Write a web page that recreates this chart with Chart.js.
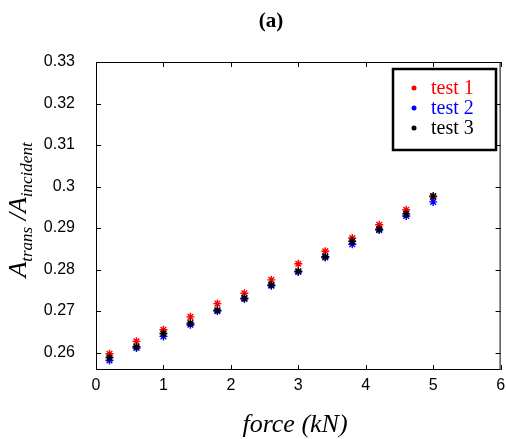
<!DOCTYPE html>
<html>
<head>
<meta charset="utf-8">
<script src="https://cdn.jsdelivr.net/npm/chart.js@4/dist/chart.umd.min.js"></script>
<style>
  body { margin: 0; background: #fff; }
  #plot { display: block; }
</style>
</head>
<body>
<canvas id="plot" width="506" height="439"></canvas>
<script>
// force values (kN), same for all three tests
const force = [0.2, 0.6, 1.0, 1.4, 1.8, 2.2, 2.6, 3.0, 3.4, 3.8, 4.2, 4.6, 5.0];

// A_trans / A_incident
const test1 = [0.2597, 0.2627, 0.2655, 0.2686, 0.2718, 0.2743, 0.2775, 0.2814, 0.2844, 0.2876, 0.2908, 0.2944, 0.2975];
const test2 = [0.2581, 0.2611, 0.2639, 0.2667, 0.2700, 0.2729, 0.2761, 0.2794, 0.2829, 0.2861, 0.2895, 0.2929, 0.2963];
const test3 = [0.2588, 0.2614, 0.2646, 0.2671, 0.2702, 0.2731, 0.2763, 0.2796, 0.2831, 0.2868, 0.2897, 0.2934, 0.2977];

const seriesNames = ["test 1", "test 2", "test 3"];
const seriesColors = ["#ff0000", "#0000ff", "#000000"];

const xTicks = [0, 1, 2, 3, 4, 5, 6];
const yTicks = [0.26, 0.27, 0.28, 0.29, 0.30, 0.31, 0.32, 0.33];

function makeSet(i, values) {
  let pts = [];
  for (let k = 0; k < force.length; k++) {
    pts.push({ x: force[k], y: values[k] });
  }
  return {
    label: seriesNames[i],
    data: pts,
    pointStyle: "star",
    pointRadius: 4,
    borderWidth: 1.4,
    borderColor: seriesColors[i],
    backgroundColor: seriesColors[i],
    showLine: false,
    order: 3 - i // test 3 ends up on top, like the original plot order
  };
}

// draws the box, inward ticks, labels and the legend box
const decorations = {
  id: "decorations",
  afterDraw(chart) {
    const ctx = chart.ctx;
    const a = chart.chartArea;
    const xs = chart.scales.x, ys = chart.scales.y;
    ctx.save();

    // axes box
    ctx.strokeStyle = "#000";
    ctx.lineWidth = 1;
    ctx.strokeRect(a.left + 0.5, a.top + 0.5, a.right - a.left - 1, a.bottom - a.top - 1);

    // inward ticks on all four sides
    ctx.beginPath();
    for (const v of xTicks) {
      let px = Math.round(xs.getPixelForValue(v)) + 0.5;
      ctx.moveTo(px, a.bottom); ctx.lineTo(px, a.bottom - 5);
      ctx.moveTo(px, a.top); ctx.lineTo(px, a.top + 5);
    }
    for (const v of yTicks) {
      let py = Math.round(ys.getPixelForValue(v)) + 0.5;
      ctx.moveTo(a.left, py); ctx.lineTo(a.left + 5, py);
      ctx.moveTo(a.right, py); ctx.lineTo(a.right - 5, py);
    }
    ctx.stroke();

    // title
    ctx.fillStyle = "#000";
    ctx.font = "bold 21px 'Liberation Serif'";
    ctx.textAlign = "center";
    ctx.textBaseline = "alphabetic";
    ctx.fillText("(a)", 271, 27);

    // x axis title
    ctx.font = "italic 26px 'Liberation Serif'";
    ctx.fillText("force (kN)", 295, 432);

    // y axis title with subscripts
    ctx.save();
    ctx.translate(26, 210);
    ctx.rotate(-Math.PI / 2);
    const parts = [
      ["A", 26, 0], ["trans", 17, 6], [" /", 26, 0], ["A", 26, 0], ["incident", 17, 6]
    ];
    let total = 0;
    for (const p of parts) {
      ctx.font = "italic " + p[1] + "px 'Liberation Serif'";
      total += ctx.measureText(p[0]).width;
    }
    let cx = -total / 2;
    ctx.textAlign = "left";
    for (const p of parts) {
      ctx.font = "italic " + p[1] + "px 'Liberation Serif'";
      ctx.fillText(p[0], cx, p[2]);
      cx += ctx.measureText(p[0]).width;
    }
    ctx.restore();

    // legend box
    ctx.lineWidth = 2.5;
    ctx.strokeRect(393, 69, 103, 81);
    ctx.font = "20px 'Liberation Serif'";
    ctx.textAlign = "left";
    ctx.textBaseline = "middle";
    for (let i = 0; i < seriesNames.length; i++) {
      let y = 88 + i * 20;
      ctx.fillStyle = seriesColors[i];
      ctx.beginPath();
      ctx.arc(414, y, 2.5, 0, Math.PI * 2);
      ctx.fill();
      ctx.fillText(seriesNames[i], 431, y + 1);
    }

    ctx.restore();
  }
};

new Chart(document.getElementById("plot"), {
  type: "scatter",
  data: {
    datasets: [makeSet(0, test1), makeSet(1, test2), makeSet(2, test3)]
  },
  options: {
    responsive: false,
    animation: false,
    layout: { padding: { top: 62, right: 4, left: 0, bottom: 0 } },
    plugins: {
      legend: { display: false },
      tooltip: { enabled: false }
    },
    scales: {
      x: {
        type: "linear",
        min: 0,
        max: 6,
        afterBuildTicks(scale) { scale.ticks = xTicks.map(v => ({ value: v })); },
        afterFit(scale) { scale.height = 69; },
        grid: { display: false },
        border: { display: false },
        ticks: {
          color: "#000",
          padding: -2,
          font: { family: "'Liberation Sans'", size: 16 }
        }
      },
      y: {
        type: "linear",
        min: 0.2558,
        max: 0.33,
        afterBuildTicks(scale) { scale.ticks = yTicks.map(v => ({ value: v })); },
        afterFit(scale) { scale.width = 96; },
        grid: { display: false },
        border: { display: false },
        ticks: {
          color: "#000",
          padding: 13,
          font: { family: "'Liberation Sans'", size: 16 },
          callback: v => String(+v.toFixed(2))
        }
      }
    }
  },
  plugins: [decorations]
});
</script>
</body>
</html>
